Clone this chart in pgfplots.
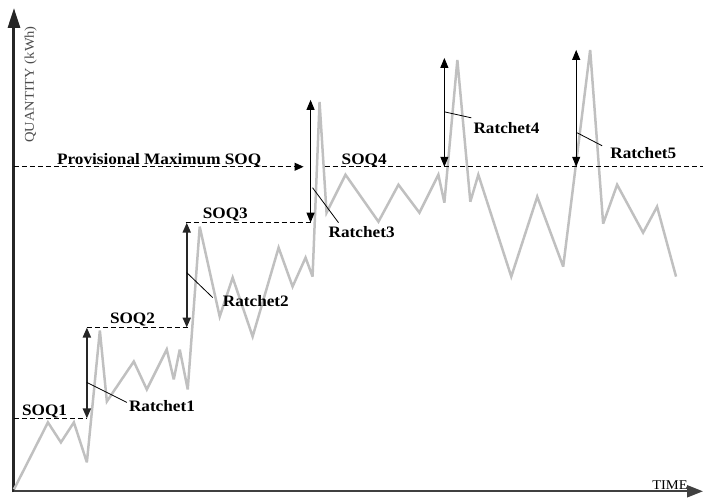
\documentclass[border=0pt]{standalone}
\usepackage{pgfplots}
\pgfplotsset{compat=1.18}
\usetikzlibrary{arrows.meta}
\usepackage{fontspec}
\setmainfont{Liberation Serif}[FakeStretch=1.08]
\definecolor{lg}{RGB}{192,192,192}
\begin{document}
\begin{tikzpicture}
\begin{axis}[
  width=704bp, height=502bp, scale only axis,
  xmin=0, xmax=704, ymin=0, ymax=502,
  hide axis, clip=false,
  every axis plot/.append style={no markers},
]
\path (axis cs:0,0) rectangle (axis cs:704,502);
% axes
\addplot[black!85, line width=3bp, -{Triangle[length=20bp,width=12bp]}] coordinates {(14,9) (14,494)};
\addplot[black!75, line width=2bp, -{Triangle[length=16bp,width=12bp]}] coordinates {(14,10) (704,10)};
% quantity series
\addplot[lg, line width=2.5bp, line join=miter, miter limit=4] coordinates {
(14,12) (48,79) (61,59) (74,79) (87,39) (100,171) (107,100) (134,140) (147,112)
(167,152) (174,122) (180,152) (188,112) (200,275) (220,185) (233,224) (253,165)
(279,254) (293,215) (306,244) (313,225) (320,400) (327,289) (346,327) (379,280)
(399,317) (420,289) (439,327) (445,299) (458,442) (471,300) (479,327) (512,225)
(538,305) (564,235) (591,452) (604,278) (618,317) (644,269) (658,295) (677,225)
};
% SOQ dashed levels
\addplot[black, line width=1bp, dash pattern=on 5bp off 3bp] coordinates {(14,83) (87,83)};
\addplot[black, line width=1bp, dash pattern=on 5bp off 3bp] coordinates {(87,174) (188,174)};
\addplot[black, line width=1bp, dash pattern=on 5bp off 3bp] coordinates {(186,279) (311,279)};
\addplot[black, line width=1bp, dash pattern=on 5bp off 3bp, -{Triangle[length=9bp,width=8bp]}] coordinates {(14,335) (304,335)};
\addplot[black, line width=1bp, dash pattern=on 5bp off 3bp] coordinates {(325,335) (704,335)};
% ratchet arrows
\addplot[black!85, line width=2bp, {Triangle[length=10bp,width=8bp]}-{Triangle[length=10bp,width=8bp]}] coordinates {(87,83) (87,174)};
\addplot[black!85, line width=2bp, {Triangle[length=10bp,width=8bp]}-{Triangle[length=10bp,width=8bp]}] coordinates {(187,174) (187,279)};
\addplot[black, line width=1bp, {Triangle[length=10bp,width=8bp]}-{Triangle[length=10bp,width=8bp]}] coordinates {(311,279) (311,402)};
\addplot[black, line width=1bp, {Triangle[length=10bp,width=8bp]}-{Triangle[length=10bp,width=8bp]}] coordinates {(445,335) (445,444)};
\addplot[black, line width=1bp, {Triangle[length=10bp,width=8bp]}-{Triangle[length=10bp,width=8bp]}] coordinates {(577,335) (577,452)};
% pointers
\addplot[black, line width=0.8bp] coordinates {(87,119) (127,99)};
\addplot[black, line width=0.8bp] coordinates {(187,229) (213,204)};
\addplot[black, line width=0.8bp] coordinates {(313,314) (339,279)};
\addplot[black, line width=0.8bp] coordinates {(445,390) (472,384)};
\addplot[black, line width=0.8bp] coordinates {(578,369) (603,356)};
% labels
\tikzset{lbl/.style={inner sep=0pt, anchor=base west, font=\bfseries\fontsize{16}{19}\selectfont}}
\node[lbl] at (axis cs:22,86) {SOQ1};
\node[lbl] at (axis cs:110,178) {SOQ2};
\node[lbl] at (axis cs:203,283) {SOQ3};
\node[lbl] at (axis cs:342,337) {SOQ4};
\node[lbl] at (axis cs:57,337) {Provisional Maximum SOQ};
\node[lbl] at (axis cs:129,90) {Ratchet1};
\node[lbl] at (axis cs:223,195) {Ratchet2};
\node[lbl] at (axis cs:329,264) {Ratchet3};
\node[lbl] at (axis cs:474,368) {Ratchet4};
\node[lbl] at (axis cs:611,343) {Ratchet5};
\node[inner sep=0pt, anchor=base west, font=\fontsize{13.5}{15}\selectfont] at (axis cs:653,12) {TIME};
\node[inner sep=0pt, anchor=base west, rotate=90, text=black!70, font=\fontsize{13.5}{15}\selectfont] at (axis cs:34,359) {QUANTITY (kWh)};
\end{axis}
\end{tikzpicture}
\end{document}
